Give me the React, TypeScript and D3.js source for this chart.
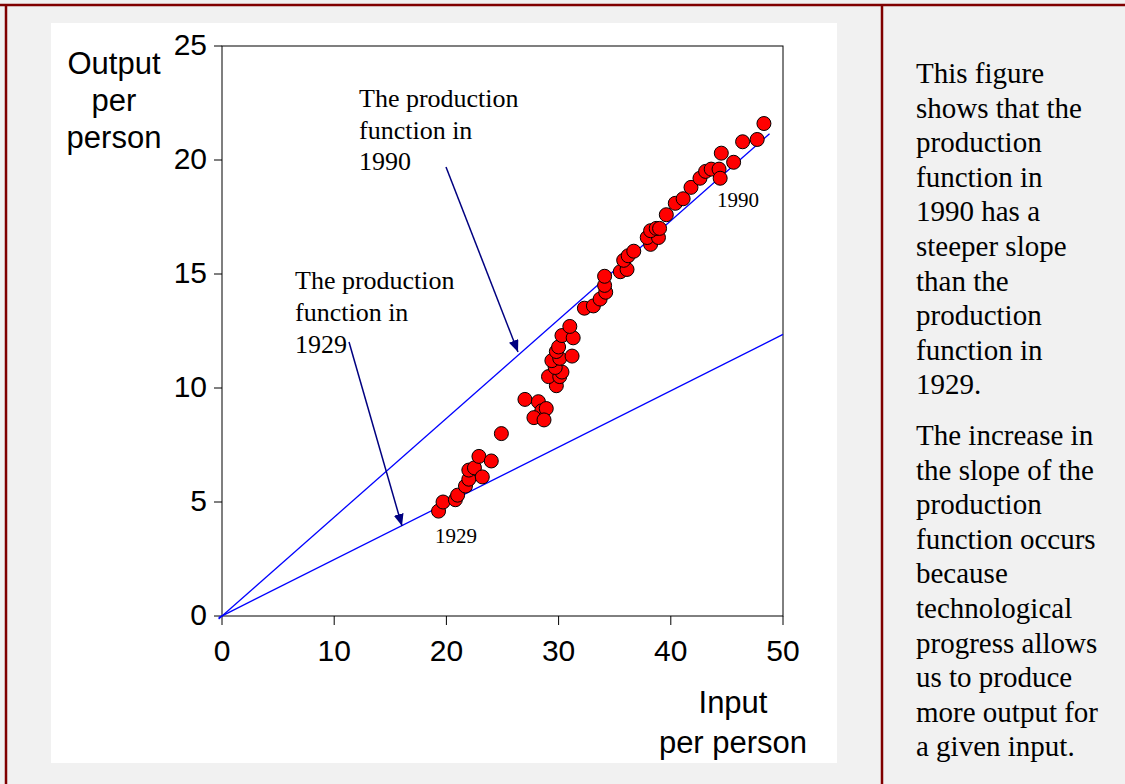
import React from 'react';
import * as d3 from 'd3';

// input and output per person, one point per year 1929..1990
const inputPerPerson = [
  19.3, 19.7, 20.8, 21.0, 21.7, 22.0, 22.0, 22.5, 22.9, 23.2, 24.0, 24.9,
  27.0, 28.2, 28.5, 28.9, 27.8, 28.7, 29.8, 29.1, 30.1, 30.3, 29.7, 29.4,
  30.1, 31.2, 29.8, 30.0, 30.3, 31.3, 31.0, 32.3, 33.1, 33.7, 34.2, 34.1,
  34.1, 35.5, 36.1, 35.8, 36.2, 36.7, 38.2, 37.9, 38.9, 38.2, 38.7, 39.0,
  39.6, 40.4, 41.1, 41.8, 42.6, 43.1, 43.6, 44.3, 44.4, 44.5, 45.6, 46.4,
  47.7, 48.3,
];
const outputPerPerson = [
  4.6, 5.0, 5.1, 5.3, 5.7, 6.0, 6.4, 6.5, 7.0, 6.1, 6.8, 8.0,
  9.5, 9.4, 9.0, 9.1, 8.7, 8.6, 10.1, 10.5, 10.5, 10.7, 10.9, 11.2,
  11.3, 11.4, 11.6, 11.8, 12.3, 12.2, 12.7, 13.5, 13.6, 13.9, 14.2, 14.5,
  14.9, 15.1, 15.2, 15.6, 15.8, 16.0, 16.3, 16.6, 16.6, 16.9, 17.0, 17.0,
  17.6, 18.1, 18.3, 18.8, 19.2, 19.5, 19.6, 19.6, 19.2, 20.3, 19.9, 20.8,
  20.9, 21.6,
];

// production functions through the origin: [x, y] end points
const line1929: [number, number][] = [[-0.3, -0.07], [50, 12.35]];
const line1990: [number, number][] = [[-0.3, -0.13], [48.8, 21.15]];

const xTicks = [0, 10, 20, 30, 40, 50];
const yTicks = [0, 5, 10, 15, 20, 25];

const note1990 = ['The production', 'function in', '1990'];
const note1929 = ['The production', 'function in', '1929'];
const para1 = ['This figure', 'shows that the', 'production', 'function in', '1990 has a',
  'steeper slope', 'than the', 'production', 'function in', '1929.'];
const para2 = ['The increase in', 'the slope of the', 'production', 'function occurs', 'because',
  'technological', 'progress allows', 'us to produce', 'more output for', 'a given input.'];

const sans = 'Arial, "Liberation Sans", sans-serif';
const serif = '"Times New Roman", "Liberation Serif", serif';
const navy = '#000080';

export default function App() {
  const x = d3.scaleLinear().domain([0, 50]).range([222, 783]);
  const y = d3.scaleLinear().domain([0, 25]).range([616, 46]);
  const line = d3.line<[number, number]>().x(d => x(d[0])).y(d => y(d[1]));

  return (
    <svg width={1125} height={784} style={{ position: 'absolute', left: 0, top: 0 }}>
      <defs>
        <marker id="ah" markerUnits="userSpaceOnUse" markerWidth={14} markerHeight={12}
          refX={12} refY={5} orient="auto">
          <path d="M0,0 L12,5 L0,10 Z" fill={navy} />
        </marker>
      </defs>
      <rect width={1125} height={784} fill="#f1f1f1" />
      <line x1={0} x2={1125} y1={5} y2={5} stroke="#800000" strokeWidth={2.5} />
      <line x1={6} x2={6} y1={4} y2={784} stroke="#800000" strokeWidth={2.5} />
      <line x1={882} x2={882} y1={4} y2={784} stroke="#800000" strokeWidth={2.5} />

      <rect x={51} y={23} width={786} height={740} fill="#fff" />

      {/* frame + ticks */}
      <rect x={x(0)} y={y(25)} width={x(50) - x(0)} height={y(0) - y(25)} fill="none" stroke="#000" strokeWidth={1} />
      {xTicks.map(t => (
        <g key={'x' + t}>
          <line x1={x(t)} x2={x(t)} y1={y(0)} y2={y(0) + 9} stroke="#000" />
          <text x={x(t)} y={y(0) + 45} textAnchor="middle" fontFamily={sans} fontSize={30}>{t}</text>
        </g>
      ))}
      {yTicks.map(t => (
        <g key={'y' + t}>
          <line x1={x(0) - 8} x2={x(0)} y1={y(t)} y2={y(t)} stroke="#000" />
          <text x={207} y={y(t) + 9} textAnchor="end" fontFamily={sans} fontSize={30}>{t}</text>
        </g>
      ))}

      <text fontFamily={sans} fontSize={31} textAnchor="middle">
        <tspan x={114} y={74}>Output</tspan>
        <tspan x={114} y={111}>per</tspan>
        <tspan x={114} y={148}>person</tspan>
      </text>
      <text fontFamily={sans} fontSize={31} textAnchor="middle">
        <tspan x={733} y={713}>Input</tspan>
        <tspan x={733} y={753}>per person</tspan>
      </text>

      <path d={line(line1990) || ''} fill="none" stroke="#0000ff" strokeWidth={1.3} />
      <path d={line(line1929) || ''} fill="none" stroke="#0000ff" strokeWidth={1.3} />

      {inputPerPerson.map((v, i) => (
        <circle key={i} cx={x(v)} cy={y(outputPerPerson[i])} r={7} fill="#ff0000" stroke="#000" strokeWidth={1} />
      ))}

      <text x={435} y={543} fontFamily={serif} fontSize={21}>1929</text>
      <text x={717} y={207} fontFamily={serif} fontSize={21}>1990</text>

      {note1990.map((s, i) => (
        <text key={'a' + i} x={359} y={107 + i * 31.5} fontFamily={serif} fontSize={26}>{s}</text>
      ))}
      {note1929.map((s, i) => (
        <text key={'b' + i} x={295} y={289 + i * 32} fontFamily={serif} fontSize={26}>{s}</text>
      ))}
      <line x1={446} y1={167} x2={518} y2={352} stroke={navy} strokeWidth={1.5} markerEnd="url(#ah)" />
      <line x1={349} y1={342} x2={402} y2={526} stroke={navy} strokeWidth={1.5} markerEnd="url(#ah)" />

      {para1.map((s, i) => (
        <text key={'p' + i} x={916} y={83 + i * 34.6} fontFamily={serif} fontSize={29}>{s}</text>
      ))}
      {para2.map((s, i) => (
        <text key={'q' + i} x={916} y={445 + i * 34.6} fontFamily={serif} fontSize={29}>{s}</text>
      ))}
    </svg>
  );
}
